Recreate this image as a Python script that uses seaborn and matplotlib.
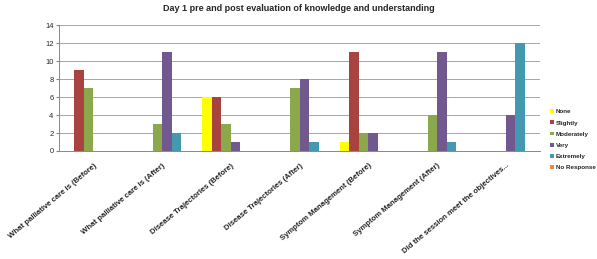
import pandas as pd
import matplotlib.pyplot as plt
import seaborn as sns

sns.set_style('white')
plt.rcParams['font.family'] = ['Liberation Sans', 'DejaVu Sans']

questions = ['What palliative care is (Before)', 'What palliative care is (After)',
             'Disease Trajectories (Before)', 'Disease Trajectories (After)',
             'Symptom Management (Before)', 'Symptom Management (After)',
             'Did the session meet the objectives...']
levels = ['None', 'Slightly', 'Moderately', 'Very', 'Extremely', 'No Response']

none_vals = [0, 0, 6, 0, 1, 0, 0]
slightly_vals = [9, 0, 6, 0, 11, 0, 0]
moderately_vals = [7, 3, 3, 7, 2, 4, 0]
very_vals = [0, 11, 1, 8, 2, 11, 4]
extremely_vals = [0, 2, 0, 1, 0, 1, 12]
noresp_vals = [0, 0, 0, 0, 0, 0, 0]

colors = ['#FFFF00', '#A9433F', '#8BA84C', '#71588F', '#4299B0', '#F0883C']

series = [none_vals, slightly_vals, moderately_vals, very_vals, extremely_vals, noresp_vals]
rows = []
for lvl, vals in zip(levels, series):
    for q, v in zip(questions, vals):
        rows.append({'question': q, 'level': lvl, 'count': v})
df = pd.DataFrame(rows)

fig = plt.figure(figsize=(5.97, 2.59), dpi=100)
ax = fig.add_axes([0.099, 0.417, 0.806, 0.486])

sns.barplot(data=df, x='question', y='count', hue='level', order=questions,
            hue_order=levels, palette=colors, width=0.83, linewidth=0,
            saturation=1, ax=ax)

ax.set_ylim(0, 14)
ax.set_yticks(range(0, 15, 2))
ax.set_xlim(-0.5, len(questions) - 0.5)
ax.yaxis.grid(True, color='#a6a6a6', linewidth=0.7)
ax.set_axisbelow(True)
for s in ['top', 'right']:
    ax.spines[s].set_visible(False)
for s in ['left', 'bottom']:
    ax.spines[s].set_color('#888888')
    ax.spines[s].set_linewidth(0.7)

ax.set_xlabel('')
ax.set_ylabel('')
ax.tick_params(axis='y', labelsize=5.5, length=2, left=True, color='#888888', pad=2)
ax.set_xticks(range(len(questions)))
ax.set_xticklabels(questions, rotation=40, ha='right', rotation_mode='anchor',
                   fontsize=5.6, fontweight='bold')
ax.tick_params(axis='x', length=0, pad=8)
ax.set_xticks([i + 0.5 for i in range(-1, len(questions))], minor=True)
ax.tick_params(axis='x', which='minor', length=3, color='#888888')

ax.legend(loc='center left', bbox_to_anchor=(1.015, 0.09), frameon=False,
          handlelength=0.6, handleheight=0.6, handletextpad=0.3,
          labelspacing=0.95, borderaxespad=0,
          prop={'weight': 'bold', 'size': 4.5})

fig.suptitle('Day 1 pre and post evaluation of knowledge and understanding',
             fontsize=6.5, fontweight='bold', x=0.5, y=0.985)

plt.savefig('out.png', dpi=100)
plt.close()
